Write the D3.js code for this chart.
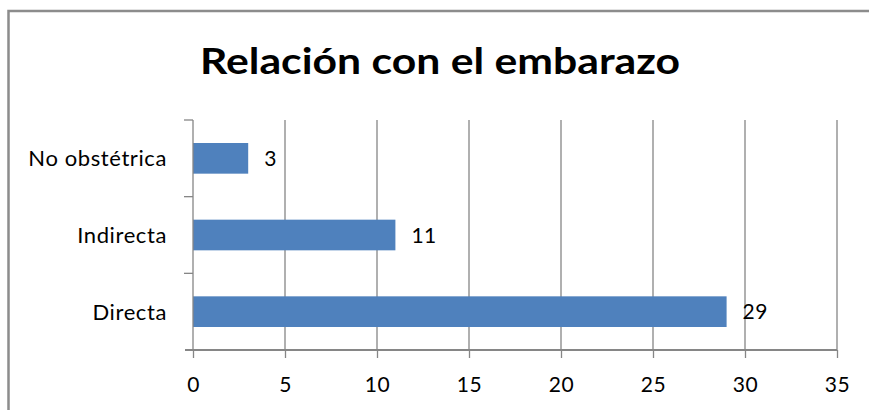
<!DOCTYPE html>
<html>
<head>
<meta charset="utf-8">
<script src="https://cdn.jsdelivr.net/npm/d3@7"></script>
<style>
  html, body { margin: 0; padding: 0; background: #fff; }
  svg { display: block; }
</style>
</head>
<body>
<svg id="chart" width="869" height="410"></svg>
<script>
const title = "Relación con el embarazo";
const categories = ["No obstétrica", "Indirecta", "Directa"];
const values = [3, 11, 29];
const xTicks = [0, 5, 10, 15, 20, 25, 30, 35];

const W = 869, H = 410;
const margin = { left: 193, right: 32, top: 120, bottom: 60 };
const font = "Lato, 'Open Sans', sans-serif";
const gridColor = "#868686";
const barColor = "#4F81BD";

const svg = d3.select("#chart");

// outer frame
svg.append("rect")
  .attr("x", 8.5).attr("y", 11)
  .attr("width", W + 20).attr("height", H + 20)
  .attr("fill", "#fff").attr("stroke", "#8c8c8c").attr("stroke-width", 2.5);

// title
svg.append("text")
  .attr("x", 200).attr("y", 74)
  .attr("font-family", font).attr("font-weight", "bold")
  .attr("font-size", 36).attr("fill", "#000")
  .attr("textLength", 480).attr("lengthAdjust", "spacingAndGlyphs")
  .text(title);

const x = d3.scaleLinear().domain([0, 35]).range([margin.left, W - margin.right]);
const y = d3.scaleBand().domain(categories)
  .range([margin.top, H - margin.bottom])
  .paddingInner(0.6).paddingOuter(0.3);

const y0 = margin.top, y1 = H - margin.bottom;

// vertical gridlines
svg.append("g").selectAll("line").data(xTicks.filter(d => d > 0)).join("line")
  .attr("x1", d => x(d)).attr("x2", d => x(d))
  .attr("y1", y0).attr("y2", y1)
  .attr("stroke", gridColor).attr("stroke-width", 1.3);

// bars
svg.append("g").selectAll("rect").data(values).join("rect")
  .attr("x", x(0))
  .attr("y", (d, i) => y(categories[i]))
  .attr("width", d => x(d) - x(0))
  .attr("height", y.bandwidth())
  .attr("fill", barColor);

// data labels
svg.append("g").selectAll("text").data(values).join("text")
  .attr("x", d => x(d) + 16)
  .attr("y", (d, i) => y(categories[i]) + y.bandwidth() / 2)
  .attr("dy", "0.36em")
  .attr("font-family", font).attr("font-size", 21).attr("fill", "#000")
  .attr("letter-spacing", 0.5)
  .text(d => d);

// x axis
const xAxis = d3.axisBottom(x).tickValues(xTicks).tickSize(8).tickPadding(19).tickFormat(d3.format("d"));
const gx = svg.append("g").attr("transform", `translate(0,${y1})`).call(xAxis);
gx.select(".domain").attr("stroke", gridColor).attr("stroke-width", 2.2)
  .attr("d", `M${x(0) - 8},0H${x(35)}`);
gx.selectAll(".tick line").attr("stroke", gridColor).attr("stroke-width", 1.3);
gx.selectAll(".tick text").attr("font-family", font).attr("font-size", 21).attr("fill", "#000")
  .attr("letter-spacing", 0.5);

// y axis line and category boundary ticks
const boundaries = [y0, ...categories.slice(1).map(c => y(c) - y.step() * y.paddingInner() / 2)];
svg.append("line")
  .attr("x1", x(0)).attr("x2", x(0)).attr("y1", y0).attr("y2", y1)
  .attr("stroke", gridColor).attr("stroke-width", 1.3);
svg.append("g").selectAll("line").data(boundaries).join("line")
  .attr("x1", x(0) - 9).attr("x2", x(0))
  .attr("y1", d => d).attr("y2", d => d)
  .attr("stroke", gridColor).attr("stroke-width", 1.3);

// category labels
svg.append("g").selectAll("text").data(categories).join("text")
  .attr("x", 167)
  .attr("y", d => y(d) + y.bandwidth() / 2)
  .attr("dy", "0.36em")
  .attr("text-anchor", "end")
  .attr("font-family", font).attr("font-size", 22).attr("fill", "#000")
  .attr("letter-spacing", 0.6)
  .text(d => d);
</script>
</body>
</html>
